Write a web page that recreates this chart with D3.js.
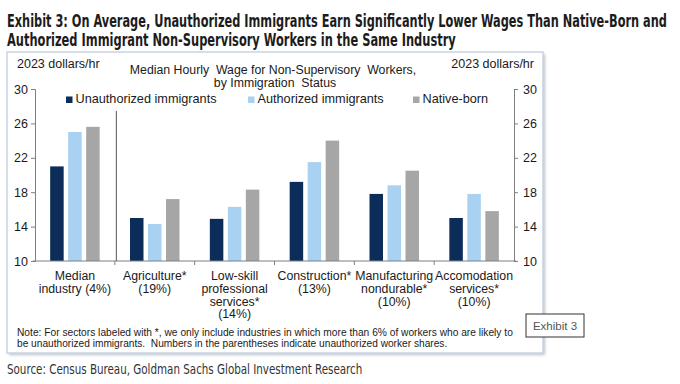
<!DOCTYPE html>
<html><head><meta charset="utf-8">
<script src="https://cdn.jsdelivr.net/npm/d3@7/dist/d3.min.js"></script>
<style>body{margin:0;background:#fff}svg{display:block}</style>
</head><body>
<script>
const categories = [
  ["Median","industry (4%)"],
  ["Agriculture*","(19%)"],
  ["Low-skill","professional","services*","(14%)"],
  ["Construction*","(13%)"],
  ["Manufacturing","nondurable*","(10%)"],
  ["Accomodation","services*","(10%)"]
];
const seriesNames = ["Unauthorized immigrants","Authorized immigrants","Native-born"];
const unauthorized = [21.0, 15.0, 14.9, 19.2, 17.8, 15.0];
const authorized   = [25.0, 14.3, 16.3, 21.5, 18.8, 17.8];
const nativeBorn   = [25.6, 17.2, 18.3, 24.0, 20.5, 15.8];
const yTicks = [10,14,18,22,26,30];
const colors = ["#0c2d5a","#a9d1f1","#a6a6a6"];

const W=680,H=384;
const svg=d3.select("body").append("svg").attr("width",W).attr("height",H);
const F="'Liberation Sans', Arial, sans-serif";
const FC="'DejaVu Sans Condensed','Liberation Sans Narrow','Liberation Sans',sans-serif";

// fit text horizontally by scaling
function fitText(sel, x0, y0, target){
  sel.attr("x",0).attr("y",0);
  const w=sel.node().getComputedTextLength();
  const sx=target/w;
  sel.attr("transform",`translate(${x0},${y0}) scale(${sx},1)`);
}

// Title
const titleLines=[["Exhibit 3: On Average, Unauthorized Immigrants Earn Significantly Lower Wages Than Native-Born and",27,660],
                  ["Authorized Immigrant Non-Supervisory Workers in the Same Industry",46,449]];
titleLines.forEach(([t,y,len])=>{
  const s=svg.append("text").text(t).attr("font-family",FC).attr("font-weight","bold").attr("font-size",17.5).attr("fill","#1c1c1c");
  fitText(s,7,y,len);
});

// Chart box with shadow
const defs=svg.append("defs");
const flt=defs.append("filter").attr("id","sh").attr("x","-5%").attr("y","-5%").attr("width","110%").attr("height","110%");
flt.append("feGaussianBlur").attr("stdDeviation",1.5);
svg.append("rect").attr("x",9).attr("y",54).attr("width",536).attr("height",301).attr("fill","#b9c3cd").attr("filter","url(#sh)");
svg.append("rect").attr("x",7).attr("y",52).attr("width",536).attr("height",301).attr("fill","#fff").attr("stroke","#c8d5e2").attr("stroke-width",1.5);

// Scales
const x=d3.scaleBand().domain(d3.range(categories.length)).range([35,514]).padding(0);
const y=d3.scaleLinear().domain([10,30]).range([261,89]);
const inner=d3.scaleBand().domain(d3.range(3)).range([-24.75,24.75]).paddingInner(0.25);
const series=[unauthorized,authorized,nativeBorn];

// Bars
series.forEach((vals,si)=>{
  svg.append("g").selectAll("rect").data(vals).join("rect")
    .attr("x",(d,i)=>x(i)+x.bandwidth()/2+inner(si))
    .attr("width",inner.bandwidth())
    .attr("y",d=>y(d)).attr("height",d=>y(10)-y(d))
    .attr("fill",colors[si]);
});

// Axes
const axColor="#7f7f7f";
const gl=svg.append("g").attr("transform","translate(35,0)").call(d3.axisLeft(y).tickValues(yTicks).tickSize(4).tickPadding(3));
const gr=svg.append("g").attr("transform","translate(514,0)").call(d3.axisRight(y).tickValues(yTicks).tickSize(4).tickPadding(5));
[gl,gr].forEach(g=>{
  g.select(".domain").attr("stroke",axColor);
  g.selectAll(".tick line").attr("stroke",axColor);
  g.selectAll(".tick text").attr("font-family",F).attr("font-size",12.5).attr("fill","#1a1a1a");
});
// bottom axis
const xb=svg.append("g");
xb.append("line").attr("x1",33).attr("x2",516).attr("y1",y(10)).attr("y2",y(10)).attr("stroke",axColor);
xb.selectAll("line.t").data(d3.range(1,categories.length)).join("line").attr("class","t")
  .attr("x1",d=>x(d)).attr("x2",d=>x(d)).attr("y1",y(10)).attr("y2",y(10)+4).attr("stroke",axColor);
// separator after median
svg.append("line").attr("x1",x(1)+1.5).attr("x2",x(1)+1.5).attr("y1",111).attr("y2",y(10)).attr("stroke","#555").attr("stroke-width",1);

// Category labels
categories.forEach((lines,i)=>{
  const t=svg.append("text").attr("text-anchor","middle").attr("font-family",F).attr("font-size",12.3).attr("fill","#1a1a1a");
  lines.forEach((l,j)=>t.append("tspan").attr("x",x(i)+x.bandwidth()/2).attr("y",280+j*12.8).text(l));
});

// Axis unit labels
svg.append("text").attr("x",17).attr("y",68).text("2023 dollars/hr").attr("font-family",F).attr("font-size",12.5).attr("fill","#1a1a1a");
svg.append("text").attr("x",534).attr("y",68).attr("text-anchor","end").text("2023 dollars/hr").attr("font-family",F).attr("font-size",12.5).attr("fill","#1a1a1a");

// Chart title
const ct=svg.append("text").attr("text-anchor","middle").attr("font-family",F).attr("font-size",12.3).attr("fill","#1a1a1a").style("white-space","pre");
ct.append("tspan").attr("x",273).attr("y",74).text("Median Hourly  Wage for Non-Supervisory  Workers,");
ct.append("tspan").attr("x",275).attr("y",87).text("by Immigration  Status");

// Legend
const legX=[66,248,413];
seriesNames.forEach((n,i)=>{
  svg.append("rect").attr("x",legX[i]).attr("y",96.5).attr("width",6.5).attr("height",6.5).attr("fill",colors[i]);
  svg.append("text").attr("x",legX[i]+9.5).attr("y",103).text(n).attr("font-family",F).attr("font-size",12.7).attr("fill","#1a1a1a");
});

// Note
const notes=[["Note: For sectors labeled with *, we only include industries in which more than 6% of workers who are likely to",336,496],
             ["be unauthorized immigrants.  Numbers in the parentheses indicate unauthorized worker shares.",347,431]];
notes.forEach(([t,yy,len])=>{
  const s=svg.append("text").text(t).attr("font-family",F).attr("font-size",10.3).attr("fill","#1a1a1a").style("white-space","pre");
  fitText(s,17,yy,len);
});

// Exhibit 3 box
svg.append("rect").attr("x",526).attr("y",314).attr("width",58).attr("height",23).attr("fill","#fff").attr("stroke","#333").attr("stroke-width",1);
svg.append("text").attr("x",555).attr("y",329.5).attr("text-anchor","middle").text("Exhibit 3").attr("font-family",F).attr("font-size",11.5).attr("fill","#555");

// Source
const src=svg.append("text").text("Source: Census Bureau, Goldman Sachs Global Investment Research")
  .attr("font-family",FC).attr("font-size",13.5).attr("fill","#333");
fitText(src,7,374,356);
</script>
</body></html>
